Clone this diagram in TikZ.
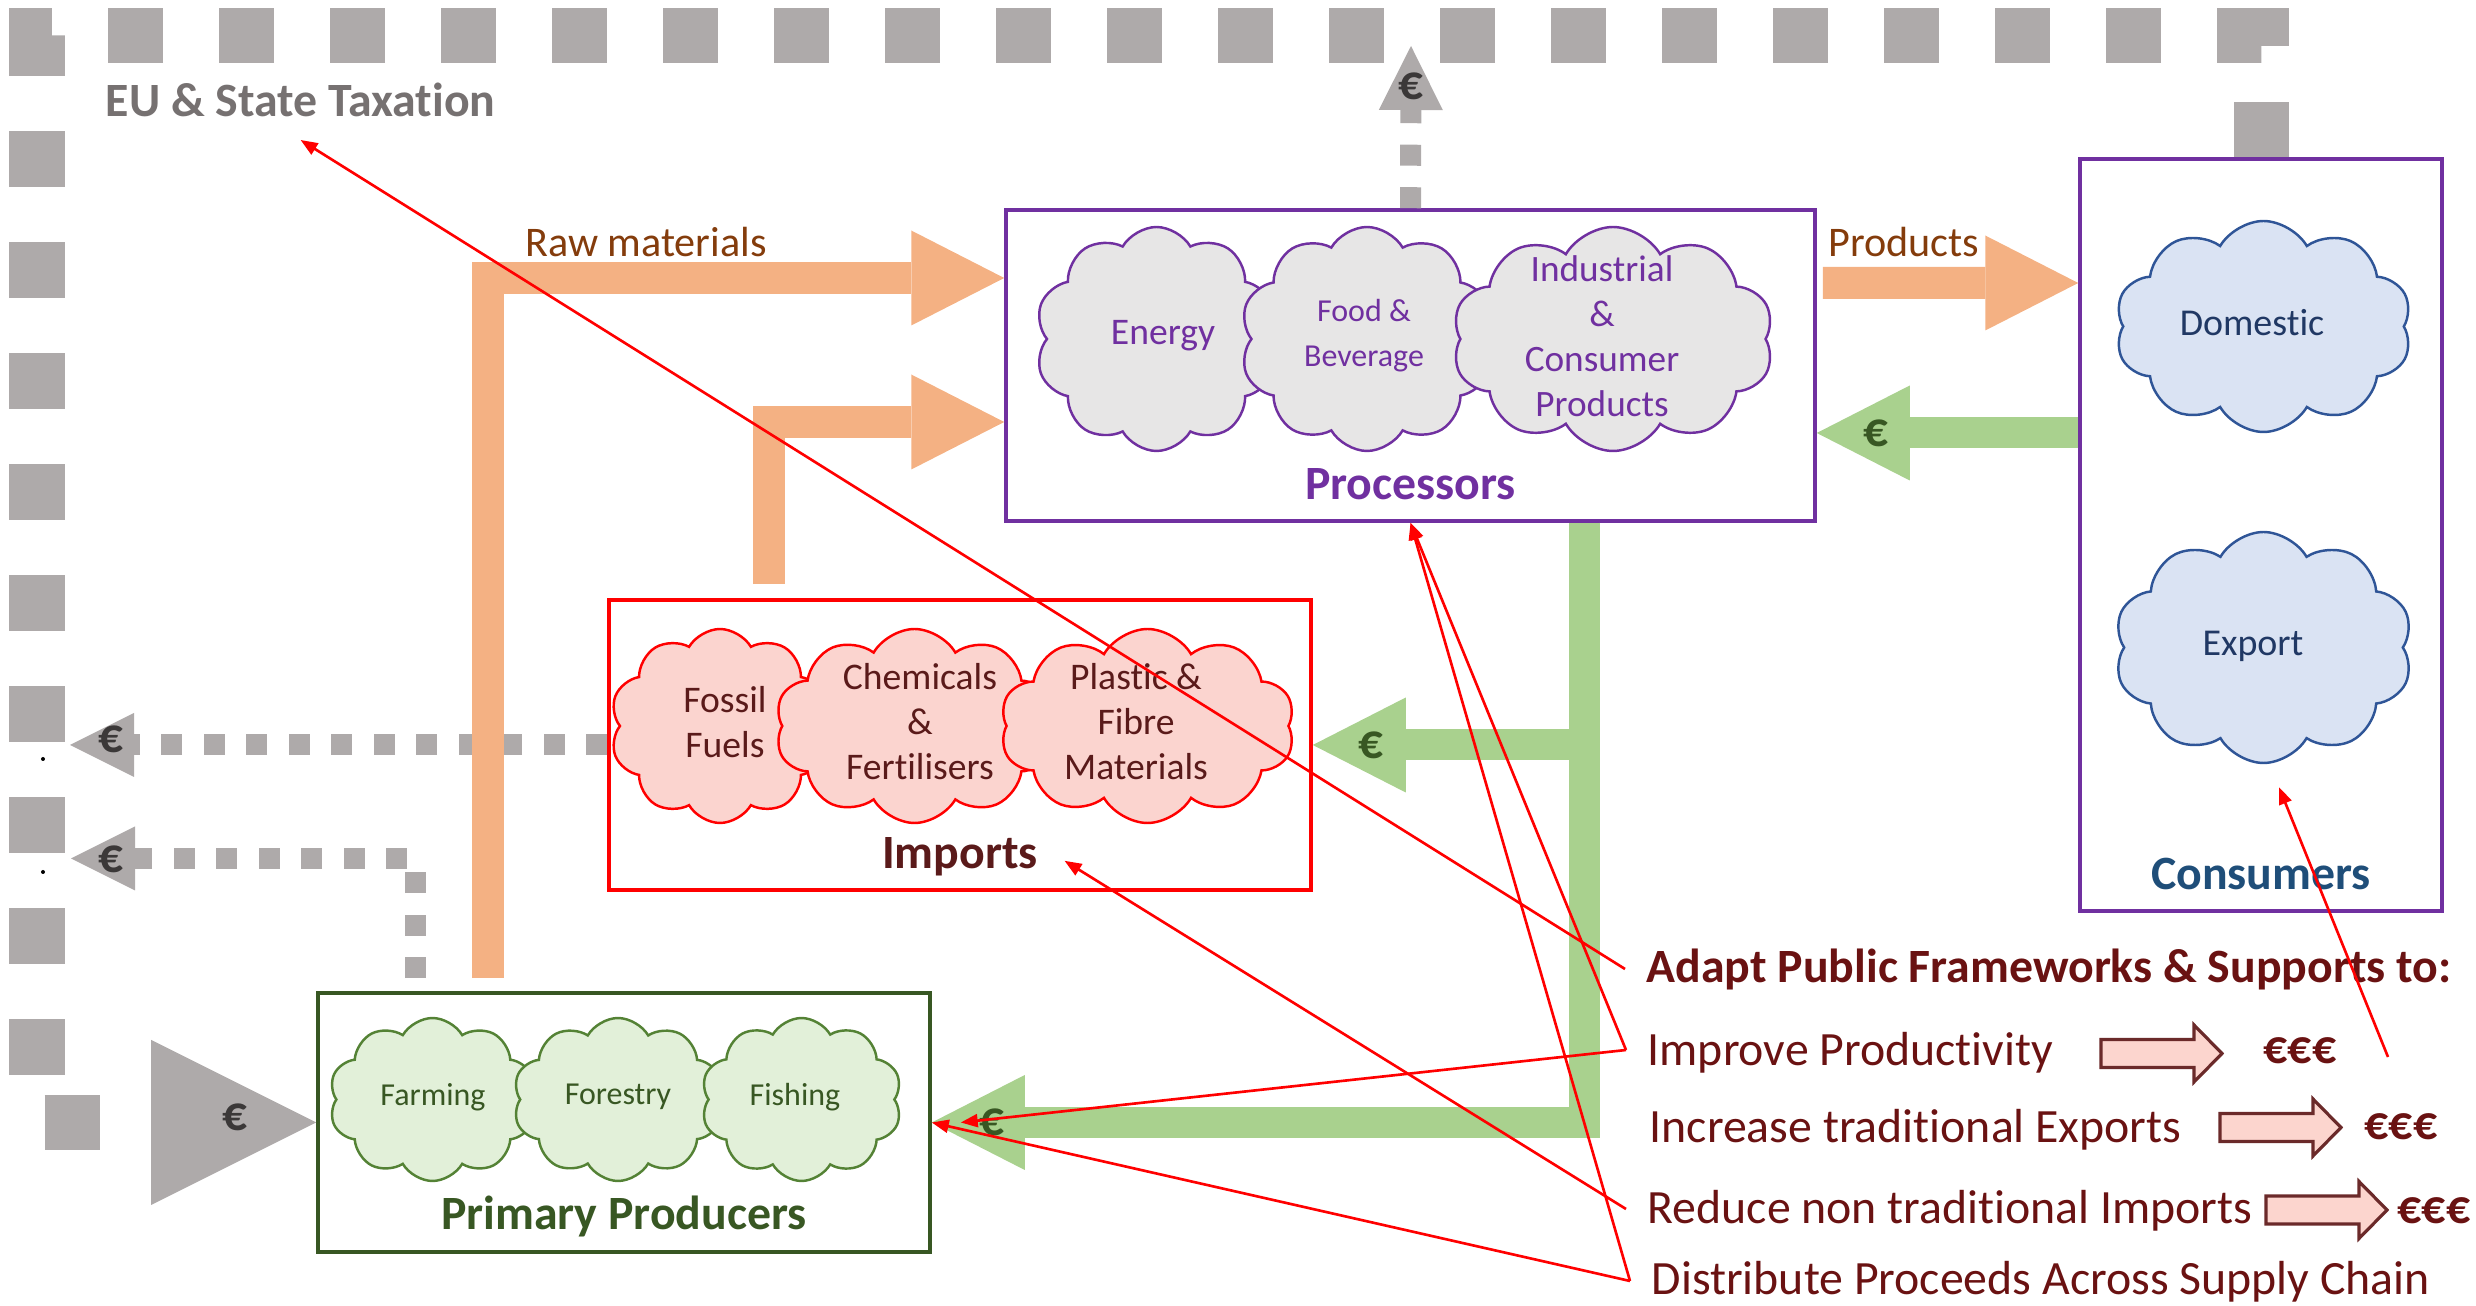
\documentclass[tikz,border=0pt]{standalone}
\usepackage{fontspec}
\setmainfont{Carlito}[Ligatures=CommonOff]
\usetikzlibrary{arrows.meta, positioning, shapes.symbols, calc}

\definecolor{taxgray}{HTML}{AEAAAA}
\definecolor{taxtext}{HTML}{767171}
\definecolor{eurogray}{HTML}{3B3838}
\definecolor{rawfill}{HTML}{F4B183}
\definecolor{rawtext}{HTML}{843C0C}
\definecolor{cashfill}{HTML}{A9D18E}
\definecolor{cashtext}{HTML}{385723}
\definecolor{procline}{HTML}{7030A0}
\definecolor{procfill}{HTML}{E7E6E6}
\definecolor{impline}{HTML}{FF0000}
\definecolor{impfill}{HTML}{FBD4CF}
\definecolor{imptext}{HTML}{5A1A1A}
\definecolor{primline}{HTML}{385723}
\definecolor{primpuff}{HTML}{548235}
\definecolor{primfill}{HTML}{E2F0D9}
\definecolor{consline}{HTML}{2F5597}
\definecolor{consfill}{HTML}{DAE3F3}
\definecolor{constext}{HTML}{203864}
\definecolor{constitle}{HTML}{1F4E79}
\definecolor{policy}{HTML}{6A1212}
\definecolor{policyfill}{HTML}{FCD5CE}
\definecolor{policyline}{HTML}{6B2A2A}

\begin{document}
\begin{tikzpicture}[
    box/.style={rectangle, draw, line width=1pt, inner sep=0pt},
    puff/.style={cloud, cloud puffs=10, cloud puff arc=120, cloud ignores aspect,
        draw, line width=0.7pt, inner sep=0pt},
    proccloud/.style={puff, draw=procline, fill=procfill, minimum height=2.24cm},
    impcloud/.style={puff, draw=impline, fill=impfill, minimum height=1.94cm},
    primcloud/.style={puff, draw=primpuff, fill=primfill, minimum height=1.63cm},
    conscloud/.style={puff, draw=consline, fill=consfill},
    cloudtext/.style={align=center, inner sep=0pt},
    boxtitle/.style={font=\bfseries\fontsize{13.6}{16}\selectfont, anchor=base, inner sep=0pt},
    flowlabel/.style={font=\fontsize{12}{14}\selectfont, text=rawtext, inner sep=0pt, anchor=base},
    rawflow/.style={draw=rawfill, line width=0.32cm,
        -{Triangle[width=0.95cm, length=0.93cm, line width=0pt]}},
    cashflow/.style={draw=cashfill, line width=0.31cm,
        -{Triangle[width=0.95cm, length=0.93cm, line width=0pt]}},
    taxflow/.style={draw=taxgray, line width=0.55cm, dash pattern=on 0.555cm off 0.555cm,
        -{Triangle[width=1.65cm, length=1.65cm, line width=0pt]}},
    leakflow/.style={draw=taxgray, line width=0.21cm, dash pattern=on 0.21cm off 0.215cm,
        -{Triangle[width=0.64cm, length=0.64cm, line width=0pt]}},
    eurotax/.style={font=\bfseries\fontsize{14}{16}\selectfont, text=eurogray, inner sep=0pt},
    eurocash/.style={font=\bfseries\fontsize{14}{16}\selectfont, text=cashtext, inner sep=0pt},
    policytext/.style={font=\fontsize{13.6}{16}\selectfont, text=policy, anchor=base west, inner sep=0pt},
    policyarrow/.style={draw=policyline, fill=policyfill, line width=0.9pt},
    note/.style={draw=red, line width=0.75pt, -{Triangle[length=0.17cm, width=0.13cm]}}
]
\useasboundingbox (0,0) rectangle (24.76,-13.06);

% Boxes
\node[box, draw=procline, minimum width=8.09cm, minimum height=3.11cm] (proc) at (14.105,-3.655) {};
\node[box, draw=impline, minimum width=7.02cm, minimum height=2.90cm] (imp) at (9.60,-7.45) {};
\node[box, draw=primline, minimum width=6.12cm, minimum height=2.59cm] (prim) at (6.24,-11.225) {};
\node[box, draw=procline, minimum width=3.62cm, minimum height=7.52cm] (cons) at (22.61,-5.35) {};

% Taxation and leaks
\node[font=\bfseries\fontsize{13.6}{16}\selectfont, text=taxtext, anchor=base west, inner sep=0pt]
    (eutax) at (1.05,-1.17) {EU \& State Taxation};
\draw[taxflow] (cons.north) -- ++(0,1.22) -| (0.37,-11.225) -- (prim.west);
\node[eurotax] (eurobig) at ([xshift=-0.81cm, yshift=0.05cm]prim.west) {€};

\coordinate (leakimp) at (0.70,-7.45);
\coordinate (leakprim) at (0.71,-8.585);
\coordinate (leakproc) at (14.11,-0.46);
\draw[leakflow] (imp.west) -- (leakimp);
\draw[leakflow] ([xshift=-2.09cm, yshift=0.13cm]prim.north) |- (leakprim);
\draw[leakflow] (proc.north) -- (leakproc);
\node[eurotax] (euroimp) at ([xshift=0.41cm, yshift=0.06cm]leakimp) {€};
\node[eurotax] (europrim) at ([xshift=0.40cm, yshift=-0.01cm]leakprim) {€};
\node[eurotax] (europroc) at ([yshift=-0.40cm]leakproc) {€};
\fill (0.43,-7.59) circle (0.02);
\fill (0.43,-8.72) circle (0.02);

% Material flows
\draw[rawflow] ([xshift=-1.36cm, yshift=0.13cm]prim.north) |- ([yshift=0.875cm]proc.west)
    node[flowlabel, pos=0.653, yshift=0.21cm] {Raw materials};
\draw[rawflow] ([xshift=-1.91cm, yshift=0.14cm]imp.north) |- ([yshift=-0.565cm]proc.west);
\draw[rawflow] ([xshift=0.06cm, yshift=0.825cm]proc.east) -- ([yshift=2.52cm]cons.west)
    node[flowlabel, pos=0.318, yshift=0.26cm] {Products};

% Money flows
\draw[cashflow] ([yshift=1.02cm]cons.west) -- ([yshift=-0.675cm]proc.east)
    node[eurocash, pos=0.774] {€};
\draw[cashflow] ([xshift=1.735cm]proc.south) |- (prim.east)
    node[eurocash, pos=0.954] {€};
\draw[cashflow] ([xshift=1.735cm]proc.south |- imp.east) -- (imp.east)
    node[eurocash, pos=0.784] {€};

% Clouds
\foreach \cname/\cx/\cw/\tx/\fs/\ctext in {
    energy/11.565/2.43/11.63/10.7/Energy,
    food/13.67/2.54/13.64/9.1/{Food \&\\Beverage},
    industrial/16.13/3.22/16.02/10.6/{Industrial\\\&\\Consumer\\Products}} {
  \node[proccloud, minimum width=\cw cm] (\cname) at (\cx,-3.39) {};
  \node[cloudtext, text=procline, font=\fontsize{\fs}{12.8}\selectfont] (\cname-t) at (\tx,-3.36) {\ctext};
}
\foreach \cname/\cx/\cw/\tx/\ctext in {
    fossil/7.20/2.20/7.25/{Fossil\\Fuels},
    chemicals/9.145/2.79/9.20/{Chemicals\\\&\\Fertilisers},
    plastic/11.475/2.95/11.36/{Plastic \&\\Fibre\\Materials}} {
  \node[impcloud, minimum width=\cw cm] (\cname) at (\cx,-7.26) {};
  \node[cloudtext, text=imptext, font=\fontsize{10.7}{12.8}\selectfont] (\cname-t) at (\tx,-7.22) {\ctext};
}
\foreach \cname/\cx/\cw/\tx/\ctext in {
    farming/4.325/2.07/4.33/Farming,
    forestry/6.18/2.10/6.18/Forestry,
    fishing/8.015/2.01/7.95/Fishing} {
  \node[primcloud, minimum width=\cw cm] (\cname) at (\cx,-10.995) {};
  \node[cloudtext, text=primline, font=\fontsize{9.1}{11}\selectfont] (\cname-t) at (\tx,-10.97) {\ctext};
}
\node[conscloud, minimum width=2.97cm, minimum height=2.11cm] (domestic) at (22.635,-3.265) {};
\node[cloudtext, text=constext, font=\fontsize{10.8}{13}\selectfont] (domestic-t) at (22.52,-3.23) {Domestic};
\node[conscloud, minimum width=2.99cm, minimum height=2.31cm] (export) at (22.635,-6.475) {};
\node[cloudtext, text=constext, font=\fontsize{10.8}{13}\selectfont] (export-t) at (22.53,-6.46) {Export};

% Titles
\node[boxtitle, text=procline] (proctitle) at ([yshift=0.23cm]proc.south) {Processors};
\node[boxtitle, text=imptext] (imptitle) at ([yshift=0.23cm]imp.south) {Imports};
\node[boxtitle, text=primline] (primtitle) at ([yshift=0.24cm]prim.south) {Primary Producers};
\node[boxtitle, text=constitle] (constitle) at ([yshift=0.23cm]cons.south) {Consumers};

% Policy list
\node[policytext, font=\bfseries\fontsize{13.6}{16}\selectfont] (adapt) at (16.46,-9.83) {Adapt Public Frameworks \& Supports to:};
\node[policytext] (improve) at (16.47,-10.66) {Improve Productivity};
\node[policytext] (increase) at (16.49,-11.43) {Increase traditional Exports};
\node[policytext] (reduce) at (16.47,-12.24) {Reduce non traditional Imports};
\node[policytext] (distribute) at (16.51,-12.95) {Distribute Proceeds Across Supply Chain};
\node[policytext, font=\bfseries\fontsize{13.6}{16}\selectfont] (gain1) at (22.63,-10.64) {€€€};
\node[policytext, font=\bfseries\fontsize{13.6}{16}\selectfont] (gain2) at (23.64,-11.40) {€€€};
\node[policytext, font=\bfseries\fontsize{13.6}{16}\selectfont] (gain3) at (23.97,-12.24) {€€€};
\foreach \bx/\by in {21.01/-10.535, 22.20/-11.275, 22.66/-12.10}
  \draw[policyarrow] (\bx,\by) ++(0,0.14) -- ++(0.93,0) -- ++(0,0.145) -- ++(0.28,-0.285)
      -- ++(-0.28,-0.285) -- ++(0,0.145) -- ++(-0.93,0) -- cycle;

% Notes
\coordinate (adaptfoot) at ([xshift=-0.21cm, yshift=0.14cm]adapt.base west);
\coordinate (improvefoot) at ([xshift=-0.21cm, yshift=0.16cm]improve.base west);
\coordinate (reducefoot) at ([xshift=-0.21cm, yshift=0.15cm]reduce.base west);
\coordinate (distfoot) at ([xshift=-0.21cm, yshift=0.14cm]distribute.base west);
\coordinate (exportfoot) at (23.88,-10.57);
\draw[note] (adaptfoot) -- ([yshift=-0.23cm]eutax.base);
\draw[note] (improvefoot) -- (proc.south);
\draw[note] (improvefoot) -- ([xshift=0.29cm]prim.east);
\draw[note] (reducefoot) -- ([xshift=0.26cm, yshift=0.08cm]imptitle.base east);
\draw[note] (distfoot) -- (proc.south);
\draw[note] (distfoot) -- (prim.east);
\draw[note] (exportfoot) -- ([xshift=0.155cm, yshift=-0.23cm]export.south);

\end{tikzpicture}
\end{document}
